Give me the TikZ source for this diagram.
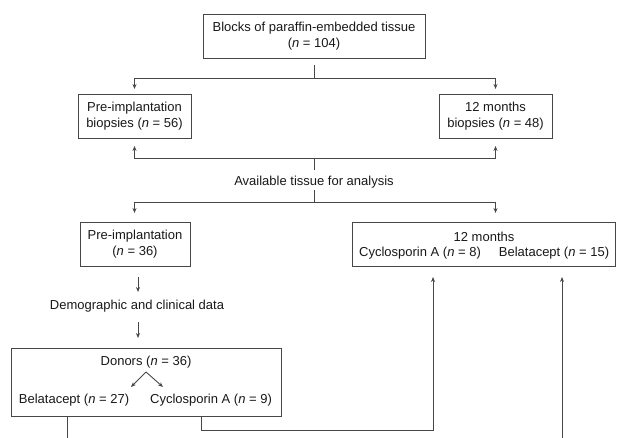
\documentclass[tikz,border=0pt]{standalone}
\usepackage{fontspec}
\setmainfont{Liberation Sans}
\usetikzlibrary{arrows.meta}
\begin{document}
\begin{tikzpicture}[x=1pt,y=-1pt,
  ln/.style={draw=black!72,line width=0.9pt},
  arr/.style={ln,-{Stealth[length=5pt,width=4pt]}},
  box/.style={draw=black!72,line width=0.9pt,rectangle,inner sep=0pt,minimum width=#1},
  txt/.style={font=\fontsize{13}{16}\selectfont,inner sep=0pt,align=center,text=black!90}]
\useasboundingbox (0,0) rectangle (617,438);
\fill[white] (0,0) rectangle (617,438);

% boxes
\node[box=222pt,minimum height=44pt,txt] (top) at (314,36) {Blocks of paraffin-embedded tissue\\(\textit{n} = 104)};
\node[box=113pt,minimum height=44pt,txt] (pre56) at (134.5,116) {Pre-implantation\\biopsies (\textit{n} = 56)};
\node[box=113pt,minimum height=44pt,txt] (bio48) at (495.5,116) {12 months\\biopsies (\textit{n} = 48)};
\node[txt] (avail) at (314,182) {Available tissue for analysis};
\node[box=110pt,minimum height=44pt,txt] (pre36) at (135,244) {Pre-implantation\\(\textit{n} = 36)};
\node[box=263pt,minimum height=44pt] (m12) at (484,244) {};
\node[txt] (m12t) at (484,237) {12 months};
\node[txt] (m12c) at (420,253) {Cyclosporin A (\textit{n} = 8)};
\node[txt] (m12b) at (554,253) {Belatacept (\textit{n} = 15)};
\node[txt] (demo) at (137,306) {Demographic and clinical data};
\node[box=270pt,minimum height=68pt] (don) at (146,382) {};
\node[txt] (dont) at (146,362) {Donors (\textit{n} = 36)};
\node[txt] (donb) at (74,400) {Belatacept (\textit{n} = 27)};
\node[txt] (donc) at (211,400) {Cyclosporin A (\textit{n} = 9)};

% coordinates
\coordinate (a0) at (314,65);
\coordinate (j1) at (314,78);
\coordinate (t1l) at (134.5,89);
\coordinate (t1r) at (495.5,89);
\coordinate (j2) at (314,158);
\coordinate (j2b) at (314,170);
\coordinate (t2l) at (134.5,146);
\coordinate (t2r) at (495.5,146);
\coordinate (j3a) at (314,190);
\coordinate (j3) at (314,202);
\coordinate (t3l) at (134.5,213);
\coordinate (t3r) at (495.5,213);
\coordinate (d1s) at (138,277);
\coordinate (d1e) at (138,292);
\coordinate (d2s) at (138,322);
\coordinate (d2e) at (138,338);
\coordinate (apex) at (146,372);
\coordinate (apl) at (131,387);
\coordinate (apr) at (163,387);
\coordinate (bl0) at (67,416);
\coordinate (bl1) at (67,438);
\coordinate (cy0) at (201,416);
\coordinate (cy1) at (201,430);
\coordinate (cy2) at (433,430);
\coordinate (cyt) at (433,277);
\coordinate (be0) at (562,438);
\coordinate (bet) at (562,277);

% connectors
\draw[ln] (a0) -- (j1);
\draw[arr] (j1) -| (t1l);
\draw[arr] (j1) -| (t1r);
\draw[arr] (j2) -| (t2l);
\draw[arr] (j2) -| (t2r);
\draw[ln] (j2) -- (j2b);
\draw[ln] (j3a) -- (j3);
\draw[arr] (j3) -| (t3l);
\draw[arr] (j3) -| (t3r);
\draw[arr] (d1s) -- (d1e);
\draw[arr] (d2s) -- (d2e);
\draw[arr] (apex) -- (apl);
\draw[arr] (apex) -- (apr);
\draw[ln] (bl0) -- (bl1);
\draw[arr] (cy0) -- (cy1) -- (cy2) -- (cyt);
\draw[arr] (be0) -- (bet);
\end{tikzpicture}
\end{document}
